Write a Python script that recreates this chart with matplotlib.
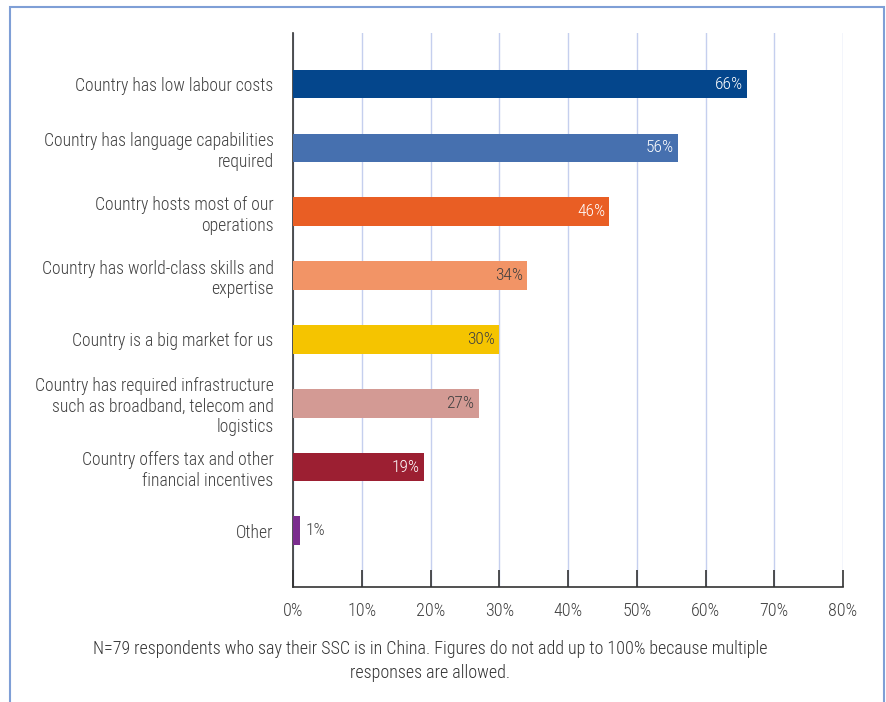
import matplotlib
matplotlib.use("Agg")
import matplotlib.pyplot as plt
from matplotlib.patches import Rectangle

plt.rcParams['font.family'] = ['Roboto Condensed', 'Liberation Sans Narrow', 'Liberation Sans']
plt.rcParams['font.weight'] = 'light'

# reasons for choosing China as SSC location
categories = [
    "Country has low labour costs",
    "Country has language capabilities\nrequired",
    "Country hosts most of our\noperations",
    "Country has world-class skills and\nexpertise",
    "Country is a big market for us",
    "Country has required infrastructure\nsuch as broadband, telecom and\nlogistics",
    "Country offers tax and other\nfinancial incentives",
    "Other",
]
values = [66, 56, 46, 34, 30, 27, 19, 1]
colors = ["#04468c", "#4670af", "#e95e24", "#f29466", "#f5c400", "#d39a94", "#9c1f32", "#7b2d8e"]
label_colors = ["white", "white", "white", "#404040", "#404040", "#404040", "white", "#404040"]
ticks = [0, 10, 20, 30, 40, 50, 60, 70, 80]
note = ("N=79 respondents who say their SSC is in China. Figures do not add up to 100% because multiple\n"
        "responses are allowed.")

fig = plt.figure(figsize=(8.86, 7.02), dpi=100)
ax = fig.add_axes([293 / 886, 1 - 587 / 702, 550 / 886, 554 / 702])

pos = list(range(len(values)))
ax.barh(pos, values, height=0.45, color=colors, zorder=3)

for p, v, c in zip(pos, values, label_colors):
    if v > 5:
        ax.text(v - 0.6, p, f"{v}%", ha="right", va="center", color=c, fontsize=12.5, zorder=4)
    else:
        ax.text(v + 0.8, p, f"{v}%", ha="left", va="center", color=c, fontsize=12.5, zorder=4)

ax.set_xlim(0, 80)
ax.set_ylim(7.88, -0.8)
ax.set_xticks(ticks)
ax.set_xticklabels([f"{t}%" for t in ticks], fontsize=13, color="#404040")
ax.set_yticks(pos)
ax.set_yticklabels(categories, fontsize=12.7, color="#404040", linespacing=1.2)
ax.tick_params(axis="y", length=0, pad=14)
ax.tick_params(axis="x", direction="in", length=12, width=1.2, color="#333333", pad=11)
ax.xaxis.grid(True, color="#c5cfee", linewidth=1.0, zorder=0)

for s in ["top", "right"]:
    ax.spines[s].set_visible(False)
ax.spines["left"].set_color("#333333")
ax.spines["bottom"].set_color("#333333")
ax.spines["left"].set_linewidth(1.2)
ax.spines["bottom"].set_linewidth(1.2)

# frame around the figure
fig.add_artist(Rectangle((10 / 886, -0.05), 874 / 886, 1 - 7 / 702 + 0.05, transform=fig.transFigure,
                         fill=False, edgecolor="#7f9fd6", linewidth=1.5))

fig.text(430 / 886, 1 - 661 / 702, note, ha="center", va="center", fontsize=13, color="#333333",
         linespacing=1.4)

fig.savefig("out.png", dpi=100)
